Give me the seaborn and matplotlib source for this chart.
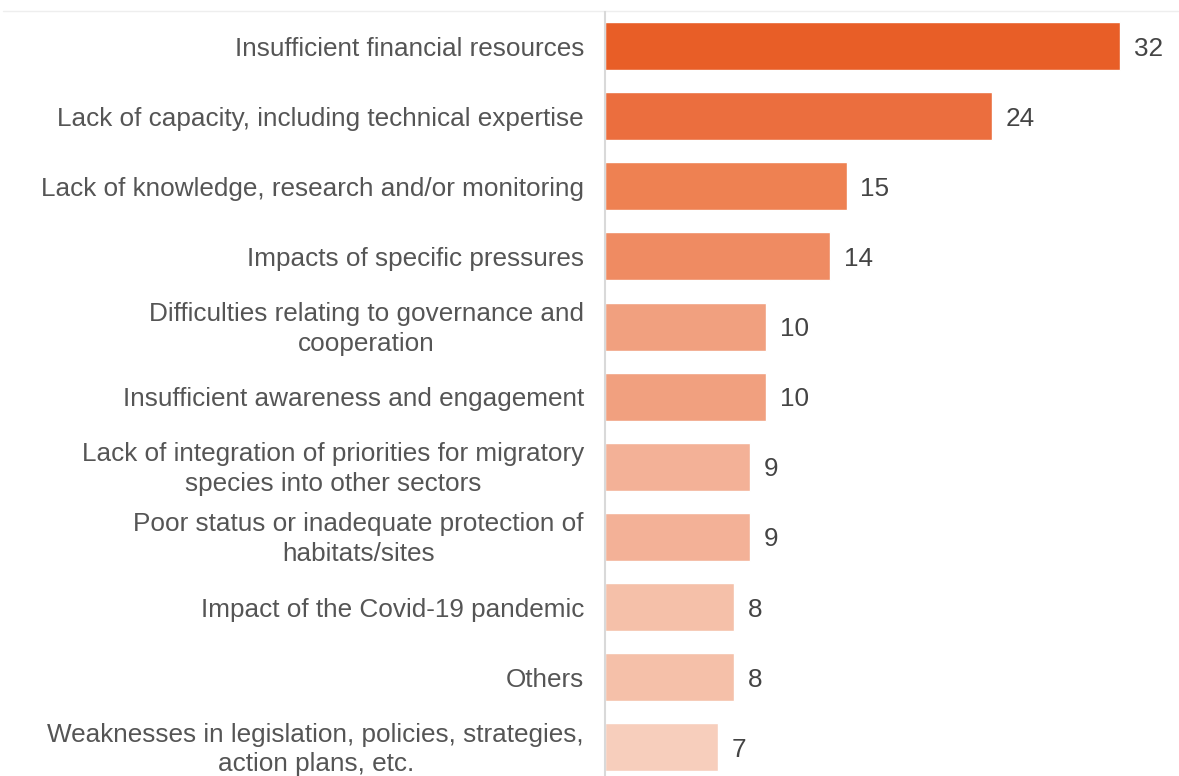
import matplotlib
matplotlib.use("Agg")
import matplotlib.pyplot as plt
import matplotlib.transforms as mtransforms
import seaborn as sns
import pandas as pd

categories = [
    "Insufficient financial resources",
    "Lack of capacity, including technical expertise",
    "Lack of knowledge, research and/or monitoring",
    "Impacts of specific pressures",
    "Difficulties relating to governance and\ncooperation",
    "Insufficient awareness and engagement",
    "Lack of integration of priorities for migratory\nspecies into other sectors",
    "Poor status or inadequate protection of\nhabitats/sites",
    "Impact of the Covid-19 pandemic",
    "Others",
    "Weaknesses in legislation, policies, strategies,\naction plans, etc.",
]
values = [32, 24, 15, 14, 10, 10, 9, 9, 8, 8, 7]
colors = ["#E85E27", "#EB6E3E", "#EE8152", "#EF8B62", "#F1A07F", "#F1A07F",
          "#F3B197", "#F3B197", "#F5C0A9", "#F5C0A9", "#F7CEBC"]

sns.set_theme(style="white")
plt.rcParams['font.family'] = ['Liberation Sans', 'DejaVu Sans']

df = pd.DataFrame({"cat": categories, "val": values})

fig = plt.figure(figsize=(11.79, 7.76), dpi=100)
ax = fig.add_axes([0.513, 0.0, 0.477, 0.9845])
sns.barplot(data=df, y="cat", x="val", hue="cat", palette=colors, legend=False,
            orient="h", width=0.685, ax=ax, saturation=1)

ax.set_xlim(0, 34.9)
ax.set_ylim(10.41, -0.485)
ax.set_xlabel("")
ax.set_ylabel("")
ax.set_xticks([])
ax.tick_params(axis="y", length=0, pad=15, labelsize=18.8, labelcolor="#555555")
shift = mtransforms.ScaledTranslation(0, 3 / 100, fig.dpi_scale_trans)
for t in ax.get_yticklabels():
    t.set_multialignment("center")
    t.set_linespacing(1.3)
    if "\n" in t.get_text():
        t.set_transform(t.get_transform() + shift)

for i, v in enumerate(values):
    ax.text(v + 0.85, i, str(v), va="center_baseline", ha="left", fontsize=18.8, color="#444444")

for s in ["right", "bottom"]:
    ax.spines[s].set_visible(False)
ax.spines["left"].set_color("#D9D9D9")
ax.spines["left"].set_linewidth(1.5)
ax.spines["top"].set_visible(False)
ax.axhline(-0.5, color="#EEEEEE", lw=1, clip_on=False, xmin=-1.07, xmax=1.02)

fig.savefig("out.png", dpi=100)
